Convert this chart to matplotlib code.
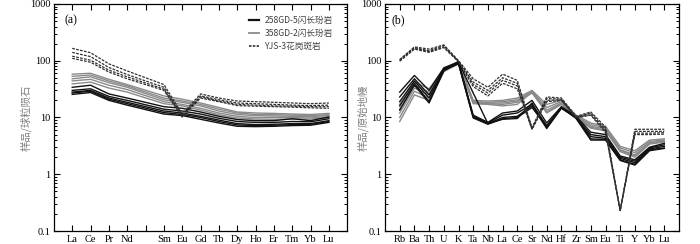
import matplotlib
matplotlib.use("Agg")
import matplotlib.pyplot as plt
from matplotlib.lines import Line2D
from matplotlib.ticker import LogLocator, NullFormatter, FixedLocator

# ---------------- data ----------------
ree_labels = ['La', 'Ce', 'Pr', 'Nd', '', 'Sm', 'Eu', 'Gd', 'Tb', 'Dy', 'Ho', 'Er', 'Tm', 'Yb', 'Lu']

ree_258GD5 = [
    [34, 37, 26, 22, 15.5, 14.5, 12.5, 10.5, 9.2, 8.8, 8.8, 9.5, 8.8, 10.2],
    [30, 32, 23.5, 20, 14, 13, 11.5, 9.7, 8.5, 8.2, 8.2, 8.5, 8.4, 9.5],
    [28, 30, 22, 18.5, 13, 12, 10.5, 9, 7.8, 7.5, 7.6, 7.8, 7.8, 8.8],
    [27, 29, 21, 17.5, 12.2, 11.3, 10, 8.5, 7.4, 7.2, 7.3, 7.5, 7.6, 8.5],
    [25.5, 27.5, 20, 16.5, 11.5, 10.8, 9.3, 8, 7, 6.9, 7, 7.2, 7.3, 8.2],
]
ree_358GD2 = [
    [58, 60, 47, 38, 24, 21, 18, 15, 12.5, 12, 11.8, 11.5, 11.3, 11.8],
    [53, 56, 44, 36, 22, 19.5, 17, 14, 12, 11.3, 11.2, 11, 10.8, 11.2],
    [48, 52, 41, 34, 20.5, 18.5, 16, 13, 11.3, 10.8, 10.6, 10.5, 10.4, 10.8],
    [44, 47, 37, 31, 19, 17, 14.5, 12, 10.5, 10, 10, 10, 9.8, 10.3],
    [39, 42, 33, 28, 17.5, 16, 13.5, 11.2, 9.8, 9.4, 9.3, 9.4, 9.4, 9.9],
]
ree_YJS3 = [
    [165, 138, 88, 66, 38, 11.5, 26, 22, 19.5, 19, 18.5, 18, 17.5, 18],
    [140, 118, 76, 57, 34, 11, 24, 20.5, 18, 17.5, 17, 16.5, 16.2, 16.5],
    [120, 102, 68, 52, 31.5, 10.5, 23, 19.5, 17, 16.5, 16, 15.8, 15.5, 15.5],
    [110, 94, 63, 48, 30, 10.2, 22, 19, 16.2, 15.8, 15.5, 15.2, 14.8, 14.5],
]

spider_labels = ['Rb', 'Ba', 'Th', 'U', 'K', 'Ta', 'Nb', 'La', 'Ce', 'Sr',
                 'Nd', 'Hf', 'Zr', 'Sm', 'Eu', 'Ti', 'Y', 'Yb', 'Lu']

sp_258GD5 = [
    [28, 55, 30, 75, 95, 11, 8.2, 12, 13, 20, 8, 15.5, 10.5, 5.5, 5, 2.1, 1.8, 3, 3.5],
    [23, 48, 25, 72, 92, 10.5, 8, 11, 12, 17, 7.2, 15, 10, 5, 4.6, 2, 1.7, 2.9, 3.3],
    [19, 44, 22, 70, 90, 10.2, 7.8, 10, 10.5, 16, 6.4, 14.5, 9.8, 4.6, 4.3, 1.9, 1.6, 2.8, 3.1],
    [16, 40, 19, 68, 88, 9.8, 7.6, 9.5, 10, 15, 7, 14.8, 10, 4.2, 4.1, 1.8, 1.5, 2.7, 2.9],
    [13.5, 37, 18, 66, 95, 27, 7.8, 9.3, 9.6, 18, 6.6, 15.2, 9.6, 4, 4, 1.75, 1.45, 2.6, 2.85],
]
sp_358GD2 = [
    [17, 42, 32, 72, 98, 20, 19.5, 20, 22, 30, 17, 20, 11, 8, 7, 3.1, 2.6, 4, 4.2],
    [14, 37, 28, 70, 95, 19, 18.5, 19, 20.5, 29, 15, 19, 10.5, 7.5, 6.6, 2.9, 2.4, 3.8, 4],
    [12, 33, 25, 68, 92, 18.5, 18, 18, 19.5, 28, 13.5, 18, 10.2, 7, 6.3, 2.7, 2.2, 3.6, 3.9],
    [10, 29, 22, 66, 90, 18, 17.5, 17, 18.5, 27, 12.5, 17.5, 10, 6.7, 6, 2.6, 2.1, 3.5, 3.8],
    [8.5, 25, 20, 64, 88, 17.5, 17, 16, 17, 28, 12, 17, 9.8, 6.5, 5.8, 2.5, 2.0, 3.4, 3.7],
]
sp_YJS3 = [
    [105, 175, 160, 190, 100, 48, 34, 58, 45, 6.6, 23, 22, 10.5, 12.5, 6.8, 0.23, 6.2, 6.2, 6.2],
    [102, 170, 150, 185, 98, 42, 30, 50, 40, 6.4, 21.5, 21, 10.2, 12, 6.2, 0.23, 5.7, 5.7, 5.7],
    [100, 165, 145, 175, 97, 38, 27, 45, 36, 6.3, 20, 20.5, 10, 11.3, 5.8, 0.23, 5.3, 5.3, 5.4],
    [98, 160, 140, 170, 96, 35, 24, 40, 32, 6.2, 19, 20, 9.8, 11, 5.4, 0.23, 5.0, 5.0, 5.1],
]

legend_labels = ['258GD-5闪长玢岩', '358GD-2闪长玢岩', 'YJS-3花岗斑岩']
ylabels = ['样品/球粒陨石', '样品/原始地幔']

# ---------------- style ----------------
C_BLACK = '#111111'
C_GRAY = '#8a8a8a'
C_DASH = '#303030'
DASH = (0, (2.2, 1.0))
serif = ['Liberation Serif', 'DejaVu Serif']
cjk = ['Noto Sans CJK SC', 'DejaVu Sans']

fig = plt.figure(figsize=(7.0, 2.44), dpi=100)
axA = fig.add_axes([0.077, 0.053, 0.419, 0.931])
axB = fig.add_axes([0.550, 0.053, 0.420, 0.931])


def style_axis(ax, labels, ylabel, ylab_x):
    n = len(labels)
    ax.set_yscale('log')
    ax.set_ylim(0.1, 1000)
    ax.set_xlim(-1, n)
    ax.xaxis.set_major_locator(FixedLocator(list(range(n))))
    ax.set_xticklabels(labels, fontfamily=serif, fontsize=7.5)
    ax.yaxis.set_minor_locator(LogLocator(base=10, subs=range(2, 10), numticks=20))
    ax.yaxis.set_minor_formatter(NullFormatter())
    ax.set_yticks([0.1, 1, 10, 100, 1000])
    ax.set_yticklabels(['0.1', '1', '10', '100', '1000'], fontfamily=serif, fontsize=7.5)
    ax.tick_params(axis='both', which='major', direction='in', top=True, right=True,
                   length=4, width=0.8, pad=2.5, colors='black')
    ax.tick_params(axis='y', which='minor', direction='in', left=True, right=True,
                   length=2.5, width=0.7)
    ax.tick_params(axis='x', which='minor', bottom=False, top=False)
    for s in ax.spines.values():
        s.set_linewidth(0.9)
    ax.set_ylabel(ylabel, fontfamily=cjk, fontsize=7.5, color='#808080')
    ax.yaxis.set_label_coords(ylab_x, 0.5)


# ---- panel (a) ----
ree_x = [i for i, l in enumerate(ree_labels) if l]
for vals in ree_358GD2:
    axA.plot(ree_x, vals, color=C_GRAY, lw=1.0)
for vals in ree_258GD5:
    axA.plot(ree_x, vals, color=C_BLACK, lw=1.0)
for vals in ree_YJS3:
    axA.plot(ree_x, vals, color=C_DASH, lw=0.9, linestyle=DASH)
style_axis(axA, ree_labels, ylabels[0], -0.075)
axA.text(0.058, 0.93, '(a)', transform=axA.transAxes, fontfamily=serif, fontsize=8.5,
         ha='center', va='center')
handles = [Line2D([], [], color=C_BLACK, lw=1.6),
           Line2D([], [], color=C_GRAY, lw=1.3),
           Line2D([], [], color=C_DASH, lw=1.2, linestyle=(0, (1.5, 0.8)))]
leg = axA.legend(handles, legend_labels, loc='upper right', frameon=False,
                 prop={'family': cjk, 'size': 6.2}, handlelength=1.2, handletextpad=0.6,
                 labelspacing=0.45, bbox_to_anchor=(0.95, 0.945), borderaxespad=0.0,
                 borderpad=0.0)
for t in leg.get_texts():
    t.set_color('#404040')

# ---- panel (b) ----
sp_x = list(range(len(spider_labels)))
for vals in sp_358GD2:
    axB.plot(sp_x, vals, color=C_GRAY, lw=1.0)
for vals in sp_258GD5:
    axB.plot(sp_x, vals, color=C_BLACK, lw=1.0)
for vals in sp_YJS3:
    axB.plot(sp_x, vals, color=C_DASH, lw=0.9, linestyle=DASH)
style_axis(axB, spider_labels, ylabels[1], -0.055)
axB.text(0.045, 0.93, '(b)', transform=axB.transAxes, fontfamily=serif, fontsize=8.5,
         ha='center', va='center')

fig.savefig('out.png', dpi=100)
